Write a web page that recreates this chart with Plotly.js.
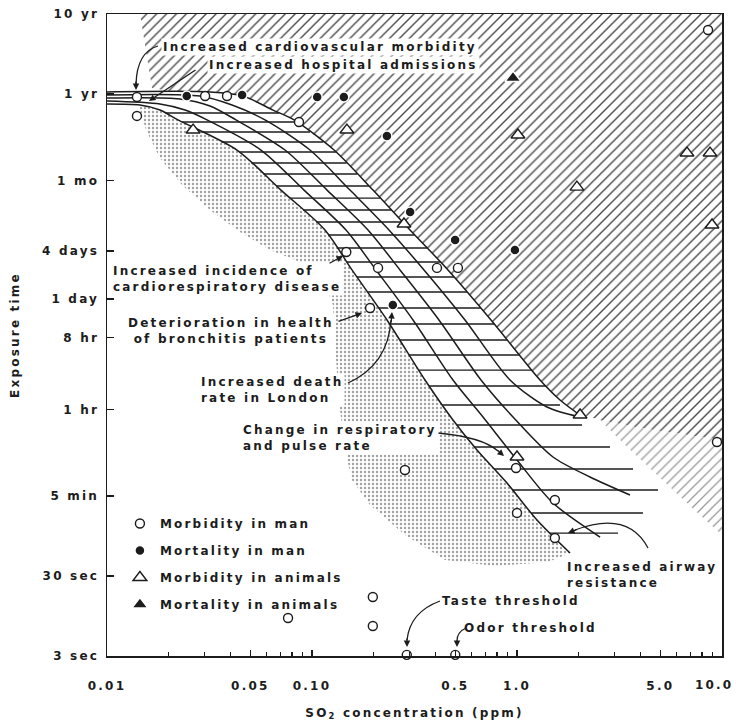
<!DOCTYPE html>
<html><head><meta charset="utf-8">
<script src="https://cdn.plot.ly/plotly-3.0.1.min.js"></script>
<style>
html,body{margin:0;padding:0;background:#fff;}
#chart{width:736px;height:722px;}
text{letter-spacing:2.2px;}
</style></head><body><div id="chart"></div>
<script>
// ---------------- data (x: SO2 ppm, y: exposure time in seconds) ----------------
const morbidityManX = [0.0140, 0.0140, 0.0301, 0.0385, 0.0864, 0.147, 0.210, 0.407, 0.515, 0.192, 0.284, 0.989, 1.53, 1.00, 1.53, 9.45, 8.55, 0.0764, 0.198, 0.198, 0.29, 0.50];
const morbidityManY = [2.90e7, 1.68e7, 2.98e7, 2.98e7, 1.41e7, 3.35e5, 2.12e5, 2.12e5, 2.12e5, 6.69e4, 633, 670, 267, 184, 89.5, 1417, 1.99e8, 8.95, 16.4, 7.11, 3.1, 3.1];
const mortalityManX = [0.0245, 0.0456, 0.106, 0.143, 0.232, 0.301, 0.499, 0.977, 0.248];
const mortalityManY = [2.98e7, 3.07e7, 2.90e7, 2.90e7, 9.44e6, 1.06e6, 4.73e5, 3.55e5, 7.30e4];
const morbidityAnimalsX = [0.0263, 0.148, 0.281, 1.01, 1.96, 6.75, 8.74, 8.94, 2.03, 1.00];
const morbidityAnimalsY = [1.12e7, 1.12e7, 7.50e5, 9.71e6, 2.17e6, 5.78e6, 5.78e6, 7.29e5, 3081, 920];
const mortalityAnimalsX = [0.956];
const mortalityAnimalsY = [5.01e7];

// band of effect curves (upper edge U, inner c3,c2,c1, lower edge L)
const bandUX = [0.0100, 0.0318, 0.04606, 0.06453, 0.08171, 0.1281, 0.1984, 0.3006, 0.4606, 0.7469, 1.295, 1.621, 1.962];
const bandUY = [3.35e7, 3.35e7, 2.98e7, 1.99e7, 1.50e7, 6.30e6, 1.99e6, 6.31e5, 2.00e5, 4.74e4, 8430, 4742, 3263];
const bandC3X = [0.0100, 0.02842, 0.04072, 0.05898, 0.09777, 0.1532, 0.2374, 0.3518, 0.5576, 0.9245, 1.400, 2.029];
const bandC3Y = [3.07e7, 2.98e7, 2.30e7, 1.50e7, 6.30e6, 1.99e6, 6.31e5, 2.00e5, 4.74e4, 8430, 3876, 2908];
const bandC2X = [0.0100, 0.02271, 0.0318, 0.04259, 0.07384, 0.1184, 0.1876, 0.2687, 0.4163, 0.6673, 0.9561, 1.498, 2.271, 3.558];
const bandC2Y = [2.81e7, 2.74e7, 2.24e7, 1.50e7, 6.30e6, 1.99e6, 6.31e5, 2.00e5, 4.74e4, 8430, 2908, 920, 517, 308];
const bandC1X = [0.0100, 0.01813, 0.02402, 0.03074, 0.05638, 0.09141, 0.1465, 0.2052, 0.3110, 0.4872, 0.6824, 1.000, 1.498, 2.541];
const bandC1Y = [2.58e7, 2.37e7, 1.99e7, 1.50e7, 6.30e6, 1.99e6, 6.31e5, 2.00e5, 4.74e4, 8430, 2908, 844, 245, 92];
const bandLX = [0.0100, 0.01449, 0.01813, 0.0222, 0.04306, 0.0706, 0.1157, 0.1567, 0.2322, 0.3558, 0.4872, 0.638, 0.8937, 1.252, 1.814];
const bandLY = [2.37e7, 2.30e7, 1.99e7, 1.50e7, 6.30e6, 1.99e6, 6.31e5, 2.00e5, 4.74e4, 8430, 2667, 1125, 435, 150, 58.1];

// horizontal grid rungs across the band (seconds) and right ends (ppm, null = upper edge)
const rungLevels = [1.83e7, 1.41e7, 1.06e7, 7.94e6, 5.95e6, 4.34e6, 3.16e6, 2.24e6, 1.58e6, 1.12e6, 7.94e5, 5.47e5, 3.76e5, 2.51e5, 1.63e5, 1.06e5, 6.69e4, 4.22e4, 2.66e4, 1.73e4, 1.12e4, 7093, 4106, 2309, 1226, 651, 356, 184, 103];
const rungRightEnds = [null,null,null,null,null,null,null,null,null,null,null,null,null,null,null,null,null,null,null,null,null,null, 1.621, 2.075, 2.842, 3.681, 4.873, 4.119, 3.110];

// hatched "effects" region (joined to the upper band edge)
const hatchStartX = [0.01449, 10, 10, 3.981, 2.541];
const hatchStartY = [3.156e8, 3.156e8, 1500, 2118, 2667];
const hatchEndX = [0.02147, 0.01658];
const hatchEndY = [3.35e7, 3.75e7];
// broken-hatch region at lower right
const dashX = [2.541, 3.981, 10, 10, 7.81, 4.984, 3.364];
const dashY = [2667, 2118, 1500, 97.5, 173, 503, 1299];
// stippled region (joined to the lower band edge)
const stippleX = [1.416, 0.781, 0.4455, 0.2843, 0.1918, 0.1567, 0.1449, 0.1370, 0.1310, 0.1266, 0.1119, 0.0874, 0.0624, 0.04455, 0.0318, 0.02322, 0.01813, 0.0155, 0.01449];
const stippleY = [44.8, 40.0, 47.5, 97.5, 231, 475, 1125, 3556, 1.50e4, 7.29e4, 1.68e5, 2.51e5, 3.55e5, 5.96e5, 1.12e6, 2.30e6, 5.01e6, 1.12e7, 1.99e7];

// axis ticks (the 10 ppm label is drawn as an annotation so it stays inside the page)
const xTickVals = [0.01, 0.05, 0.1, 0.5, 1, 5];
const xTickText = ['0.01', '0.05', '0.10', '0.5', '1.0', '5.0'];
const xLastLabel = '10.0';
const xMinorVals = [0.02,0.03,0.04,0.06,0.07,0.08,0.09,0.2,0.3,0.4,0.6,0.7,0.8,0.9,2,3,4,6,7,8,9];
const yTickVals = [3, 30, 300, 3600, 28800, 86400, 345600, 2.63e6, 3.156e7, 3.156e8];
const yTickText = ['3 sec', '30 sec', '5 min', '1 hr', '8 hr', '1 day', '4 days', '1 mo', '1 yr', '10 yr'];

// ---------------- helpers ----------------
const PL = 107, PR = 722, PT = 14, PB = 656;
function pp(x, y) { return [(x - PL) / (PR - PL), (PB - y) / (PB - PT)]; }
function xAt(cx, cy, t) {
  const lt = Math.log10(t);
  for (let i = 0; i < cy.length - 1; i++) {
    const a = Math.log10(cy[i]), b = Math.log10(cy[i + 1]);
    if ((a - lt) * (b - lt) <= 0 && a !== b) {
      const f = (lt - a) / (b - a);
      return Math.pow(10, Math.log10(cx[i]) + f * (Math.log10(cx[i + 1]) - Math.log10(cx[i])));
    }
  }
  return null;
}
const INK = '#1c1c1c';
const FONT = {family: 'DejaVu Sans, Verdana, sans-serif', size: 12, color: INK, weight: 'bold'};

// rung segments
const rungX = [], rungY = [];
rungLevels.forEach((t, i) => {
  const xl = xAt(bandLX, bandLY, t);
  const xr = rungRightEnds[i] !== null ? rungRightEnds[i] : xAt(bandUX, bandUY, t);
  if (xl && xr) { rungX.push(xl, xr, null); rungY.push(t, t, null); }
});

const hatchX = hatchStartX.concat(bandUX.slice(1).reverse(), hatchEndX);
const hatchY = hatchStartY.concat(bandUY.slice(1).reverse(), hatchEndY);
const stipX = bandLX.slice(1).concat(stippleX);
const stipY = bandLY.slice(1).concat(stippleY);

const traces = [];
traces.push({x: stipX, y: stipY, mode: 'lines', fill: 'toself', line: {width: 0, color: 'rgba(0,0,0,0)'},
  fillcolor: 'white', fillpattern: {shape: '.', size: 4, solidity: 0.28, fgcolor: '#a0a0a0', bgcolor: 'white'},
  hoverinfo: 'skip', showlegend: false});
traces.push({x: hatchX, y: hatchY, mode: 'lines', fill: 'toself', line: {width: 0, color: 'rgba(0,0,0,0)'},
  fillcolor: 'white', fillpattern: {shape: '/', size: 7, solidity: 0.2, fgcolor: '#4a4a4a', bgcolor: 'white'},
  hoverinfo: 'skip', showlegend: false});
traces.push({x: dashX, y: dashY, mode: 'lines', fill: 'toself', line: {width: 0, color: 'rgba(0,0,0,0)'},
  fillcolor: 'white', fillpattern: {shape: '/', size: 7, solidity: 0.18, fgcolor: '#9a9a9a', bgcolor: 'white'},
  hoverinfo: 'skip', showlegend: false});
[[bandUX, bandUY], [bandC3X, bandC3Y], [bandC2X, bandC2Y], [bandC1X, bandC1Y], [bandLX, bandLY]].forEach(c => {
  traces.push({x: c[0], y: c[1], mode: 'lines', line: {color: INK, width: 1.5, shape: 'spline', smoothing: 0.8},
    hoverinfo: 'skip', showlegend: false});
});
traces.push({x: rungX, y: rungY, mode: 'lines', line: {color: INK, width: 1.4}, hoverinfo: 'skip', showlegend: false, connectgaps: false});

function markerTrace(name, xs, ys, marker, group) {
  return {name: name, x: xs, y: ys, mode: 'markers', marker: marker, cliponaxis: false,
    legendgroup: group, showlegend: true, hoverinfo: 'x+y+name'};
}
traces.push(markerTrace('Morbidity in man', morbidityManX, morbidityManY,
  {symbol: 'circle', size: 9, color: 'white', line: {color: INK, width: 1.4}}, 'g1'));
traces.push(markerTrace('Mortality in man', mortalityManX, mortalityManY,
  {symbol: 'circle', size: 10, color: INK, line: {color: 'white', width: 1.5}}, 'g2'));
traces.push(markerTrace('Morbidity in animals', morbidityAnimalsX, morbidityAnimalsY,
  {symbol: 'triangle-up', size: 12, color: 'white', line: {color: INK, width: 1.4}}, 'g3'));
traces.push(markerTrace('Mortality in animals', mortalityAnimalsX, mortalityAnimalsY,
  {symbol: 'triangle-up', size: 14, color: INK, line: {color: 'white', width: 1.5}}, 'g4'));

// ---------------- annotations ----------------
function label(text, x, y, xanchor, align, bg) {
  const p = pp(x, y);
  return {text: text, xref: 'paper', yref: 'paper', x: p[0], y: p[1], xanchor: xanchor, yanchor: 'middle',
    align: align, showarrow: false, font: FONT, bgcolor: bg ? 'white' : 'rgba(0,0,0,0)', borderpad: 1};
}
function head(tx, ty, sx, sy) {
  const p = pp(tx, ty);
  return {text: '', xref: 'paper', yref: 'paper', x: p[0], y: p[1], ax: sx - tx, ay: sy - ty,
    showarrow: true, arrowhead: 2, arrowsize: 1, arrowwidth: 1.3, arrowcolor: INK, standoff: 0};
}
function curve(p0, c, p1) {
  const a = pp(p0[0], p0[1]), b = pp(c[0], c[1]), d = pp(p1[0], p1[1]);
  return {type: 'path', xref: 'paper', yref: 'paper', layer: 'above',
    path: `M ${a[0]} ${a[1]} Q ${b[0]} ${b[1]} ${d[0]} ${d[1]}`, line: {color: INK, width: 1.3}};
}
const annotations = [
  label('Increased cardiovascular morbidity', 161, 47, 'left', 'left', true),
  label('Increased hospital admissions', 480, 65, 'right', 'right', true),
  label('Increased incidence of<br>cardiorespiratory disease', 111, 279, 'left', 'left', true),
  label('Deterioration in health<br>of bronchitis patients', 231, 331, 'center', 'center', true),
  label('Increased death<br>rate in London', 199, 390, 'left', 'left', true),
  label('Change in respiratory<br>and pulse rate', 241, 438, 'left', 'left', true),
  label('Increased airway<br>resistance', 565, 575, 'left', 'left', false),
  label('Taste threshold', 440, 601, 'left', 'left', false),
  label('Odor threshold', 462, 628, 'left', 'left', false),
  label(xLastLabel, 735, 685, 'right', 'right', false),
  head(136, 90, 136, 80),
  head(149, 101, 197, 69),
  head(343, 256, 328, 264),
  head(362, 313, 337, 322),
  head(392, 312, 391, 324),
  head(504, 456, 496, 449),
  head(568, 533, 578, 529),
  head(407, 647, 407, 637),
  head(457, 647, 457, 639)
];
const shapes = [
  curve([158, 46], [137, 52], [136, 84]),
  curve([348, 383], [388, 365], [391, 320]),
  curve([438, 433], [482, 437], [498, 451]),
  curve([648, 548], [628, 510], [575, 530]),
  curve([440, 601], [410, 612], [407, 640]),
  curve([466, 628], [457, 632], [457, 641])
];

const axisCommon = {type: 'log', showgrid: false, zeroline: false, showline: true, mirror: true,
  linecolor: INK, linewidth: 1.5, ticks: 'inside', tickcolor: INK, tickwidth: 1.3, tickfont: FONT};
const layout = {
  width: 736, height: 722,
  margin: {l: PL, r: 736 - PR, t: PT, b: 722 - PB},
  paper_bgcolor: 'white', plot_bgcolor: 'white',
  showlegend: true,
  legend: {x: 0.021, y: 0.229, xanchor: 'left', yanchor: 'top', bgcolor: 'rgba(0,0,0,0)',
    font: FONT, traceorder: 'grouped', tracegroupgap: 8},
  xaxis: Object.assign({}, axisCommon, {range: [-2, 1], tickmode: 'array', tickvals: xTickVals, ticktext: xTickText,
    ticklen: 6, ticklabelstandoff: 18,
    minor: {tickmode: 'array', tickvals: xMinorVals, ticks: 'inside', ticklen: 4, tickcolor: INK, showgrid: false},
    title: {text: 'SO<sub>2</sub> concentration (ppm)', font: FONT, standoff: 16}}),
  yaxis: Object.assign({}, axisCommon, {range: [Math.log10(3), Math.log10(3.156e8)], tickmode: 'array',
    tickvals: yTickVals, ticktext: yTickText, ticklen: 7, ticklabelstandoff: 4,
    title: {text: 'Exposure time', font: FONT, standoff: 20}}),
  annotations: annotations,
  shapes: shapes
};
Plotly.newPlot('chart', traces, layout, {displayModeBar: false, staticPlot: true});
</script></body></html>
